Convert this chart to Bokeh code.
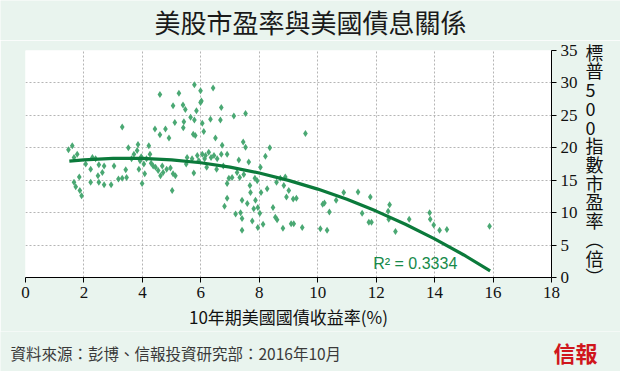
from bokeh.plotting import figure
from bokeh.models import Range1d, Label, FixedTicker
from bokeh.layouts import column
from bokeh.embed import file_html
from bokeh.resources import INLINE

# ---- data ----
bond_yield = [1.47, 1.60, 1.77, 1.66, 1.84, 1.66, 1.72, 1.86, 1.92,
              2.06, 2.23, 2.29, 2.40, 2.23, 2.48, 2.51, 2.63, 2.69, 2.51, 2.69, 2.93,
              3.03, 3.18, 3.31, 3.31, 3.46, 3.43, 3.52, 3.63, 3.71, 3.82, 3.85, 3.88, 3.92, 3.96, 3.99,
              4.05, 4.08, 4.14, 4.22, 4.26, 4.30, 4.37, 4.43, 4.45, 4.54, 4.60, 4.60, 4.62, 4.68, 4.71, 4.79, 4.83, 4.91, 4.96,
              5.02, 5.05, 5.05, 5.11, 5.13, 5.25, 5.39, 5.40, 5.42, 5.47, 5.50, 5.53, 5.65, 5.70, 5.74, 5.76, 5.78, 5.78, 5.81, 5.85, 5.88, 5.93, 5.99, 5.99,
              6.02, 6.05, 6.05, 6.10, 6.13, 6.16, 6.20, 6.27, 6.33, 6.35, 6.42, 6.45, 6.50, 6.54, 6.56, 6.67, 6.70, 6.70, 6.73, 6.77, 6.81, 6.90, 6.90, 6.90, 6.96,
              7.07, 7.13, 7.19, 7.24, 7.30, 7.33, 7.36, 7.41, 7.41, 7.41, 7.45, 7.47, 7.53, 7.53, 7.59, 7.64, 7.68, 7.70, 7.76, 7.81, 7.85, 7.87, 7.93, 7.95, 7.95,
              8.02, 8.04, 8.06, 8.13, 8.21, 8.27, 8.36, 8.47, 8.55, 8.59, 8.61, 8.72, 8.81, 8.84, 8.89, 8.93,
              9.01, 9.09, 9.16, 9.18, 9.27, 9.47, 9.58,
              10.09, 10.17, 10.23, 10.32, 10.40, 10.63, 10.89, 11.38, 11.52, 11.80, 11.75, 11.84,
              12.41, 12.46, 12.43, 12.66, 13.13, 13.83, 13.85, 13.97, 14.17, 14.42, 15.88]
pe_ratio = [19.7, 20.3, 19.0, 18.5, 15.5, 14.7, 14.0, 13.4, 12.6,
            17.5, 16.7, 18.5, 18.3, 14.7, 15.7, 17.4, 16.2, 17.2, 14.7, 14.3, 14.3,
            17.2, 15.2, 23.2, 15.3, 15.4, 16.6, 20.0, 18.3, 19.0, 19.6, 20.5, 16.7, 18.0, 18.6, 14.5,
            17.5, 16.0, 18.3, 20.3, 19.0, 17.6, 17.2, 22.9, 17.0, 16.5, 28.2, 22.0, 15.7, 17.2, 16.2, 22.9, 16.7, 21.5, 16.9,
            13.4, 26.5, 16.0, 23.9, 15.7, 28.4, 26.6, 23.1, 24.0, 25.9, 17.5, 18.5, 24.7, 18.3, 22.1, 16.1, 24.3, 29.7, 21.9, 25.7, 18.8, 18.0, 27.0, 28.8,
            27.2, 23.8, 19.0, 22.5, 18.3, 18.8, 17.0, 19.3, 24.4, 18.5, 29.2, 18.8, 21.5, 16.7, 18.3, 24.3, 19.0, 26.2, 20.4, 17.2, 11.0, 19.0, 14.5, 12.2, 15.3,
            15.4, 24.9, 9.8, 16.2, 18.1, 15.4, 10.0, 11.9, 9.1, 7.3, 20.9, 15.9, 20.1, 25.3, 11.4, 17.8, 14.2, 13.1, 8.7, 10.6, 15.3, 11.9, 14.9, 10.8, 7.7,
            9.9, 17.0, 13.1, 8.2, 18.7, 13.7, 20.0, 10.8, 9.3, 14.7, 8.9, 15.3, 7.6, 14.2, 15.5, 12.4,
            13.4, 8.3, 12.1, 8.3, 12.2, 7.7, 22.2,
            7.5, 11.3, 11.5, 7.3, 10.1, 11.9, 13.1, 13.2, 9.9, 12.4, 8.5, 8.5,
            10.2, 11.2, 9.0, 7.1, 9.0, 10.0, 9.0, 8.1, 7.3, 7.4, 7.9]

trend_x = [1.5, 2, 3, 4, 5, 6, 7, 8, 9, 10, 11, 12, 13, 14, 15, 15.9]
trend_y = [17.95, 18.15, 18.37, 18.37, 18.15, 17.69, 17.02, 16.11, 14.98, 13.63, 12.05, 10.24, 8.21, 5.95, 3.47, 1.04]

x_ticks = [0, 2, 4, 6, 8, 10, 12, 14, 16, 18]
y_ticks = [0, 5, 10, 15, 20, 25, 30, 35]

title_text = "美股市盈率與美國債息關係"
x_label = "10年期美國國債收益率(%)"
y_label_chars = ["標", "普", "5", "0", "0", "指", "數", "市", "盈", "率", "︵", "倍", "︶"]
r2_text = "R² = 0.3334"
source_text = "資料來源：彭博、信報投資研究部：2016年10月"
logo_text = "信報"

BG = "#e9f4ee"
CJK = "Noto Sans CJK TC"
NUM = "Liberation Sans Narrow"

W, H = 620, 371
TITLE_H, FOOT_H = 40, 40
MID_H = H - TITLE_H - FOOT_H


def blank(width, height):
    f = figure(width=width, height=height, output_backend="svg", toolbar_location=None,
               x_range=Range1d(0, width), y_range=Range1d(height, 0),
               x_axis_type=None, y_axis_type=None,
               min_border_left=0, min_border_right=0, min_border_top=0, min_border_bottom=0)
    f.background_fill_color = BG
    f.border_fill_color = BG
    f.outline_line_color = None
    f.xgrid.visible = False
    f.ygrid.visible = False
    f.frame_align = False
    return f


# ---- title strip ----
top = blank(W, TITLE_H)
top.add_layout(Label(x=310, y=21, text=title_text, text_font=CJK, text_font_size="26px",
                     text_color="#1a1a1a", text_align="center", text_baseline="middle"))

# ---- main chart ----
p = figure(width=W, height=MID_H, output_backend="svg", toolbar_location=None,
           x_range=Range1d(0, 18), y_range=Range1d(0, 35), y_axis_location="right",
           min_border_left=25, min_border_right=W - 551, min_border_top=50 - TITLE_H,
           min_border_bottom=TITLE_H + MID_H - 277)
p.frame_align = False
p.background_fill_color = "white"
p.border_fill_color = BG
p.outline_line_color = None

for ax, ticks in ((p.xaxis, x_ticks), (p.yaxis, y_ticks)):
    ax.ticker = FixedTicker(ticks=ticks)
    ax.axis_line_color = "black"
    ax.major_tick_line_color = "black"
    ax.major_tick_out = 5
    ax.major_tick_in = 0
    ax.minor_tick_line_color = None
    ax.major_label_text_font = NUM
    ax.major_label_text_font_size = "17px"
    ax.major_label_text_color = "#111111"

p.xaxis.major_label_standoff = 4
p.yaxis.major_label_standoff = 4
p.xaxis.axis_label = x_label
p.xaxis.axis_label_text_font = CJK
p.xaxis.axis_label_text_font_style = "normal"
p.xaxis.axis_label_text_font_size = "17px"
p.xaxis.axis_label_text_color = "#111111"
p.xaxis.axis_label_standoff = 3

# right-hand axis title: upright characters stacked vertically
p.yaxis.axis_label = "\n".join(y_label_chars)
p.yaxis.axis_label_orientation = "horizontal"
p.yaxis.axis_label_text_font = CJK
p.yaxis.axis_label_text_font_style = "normal"
p.yaxis.axis_label_text_font_size = "18px"
p.yaxis.axis_label_text_line_height = 0.72
p.yaxis.axis_label_text_color = "#111111"
p.yaxis.axis_label_text_align = "center"
p.yaxis.axis_label_standoff = 5

for g in (p.xgrid, p.ygrid):
    g.grid_line_color = "#b5b5b5"
    g.grid_line_dash = "2 2"
    g.grid_line_width = 1

p.scatter(bond_yield, pe_ratio, marker="diamond", size=7, color="#4aa873", line_color=None)
p.line(trend_x, trend_y, line_color="#0b7a3b", line_width=3.2)

p.add_layout(Label(x=11.9, y=2.1, text=r2_text, text_font="Liberation Sans", text_font_size="16px",
                   text_color="#168a4a", text_baseline="middle", text_align="left"))

# ---- footer ----
foot = blank(W, FOOT_H)
foot.add_layout(Label(x=10, y=352 - TITLE_H - MID_H, text=source_text, text_font=CJK,
                      text_font_size="15.5px", text_color="#3a3a3a",
                      text_align="left", text_baseline="middle"))
foot.add_layout(Label(x=575, y=351 - TITLE_H - MID_H, text=logo_text, text_font=CJK,
                      text_font_size="22px", text_font_style="bold", text_color="#d0161c",
                      text_align="center", text_baseline="middle"))

layout = column(top, p, foot, spacing=0)
open("out.html", "w").write(file_html(layout, INLINE))
